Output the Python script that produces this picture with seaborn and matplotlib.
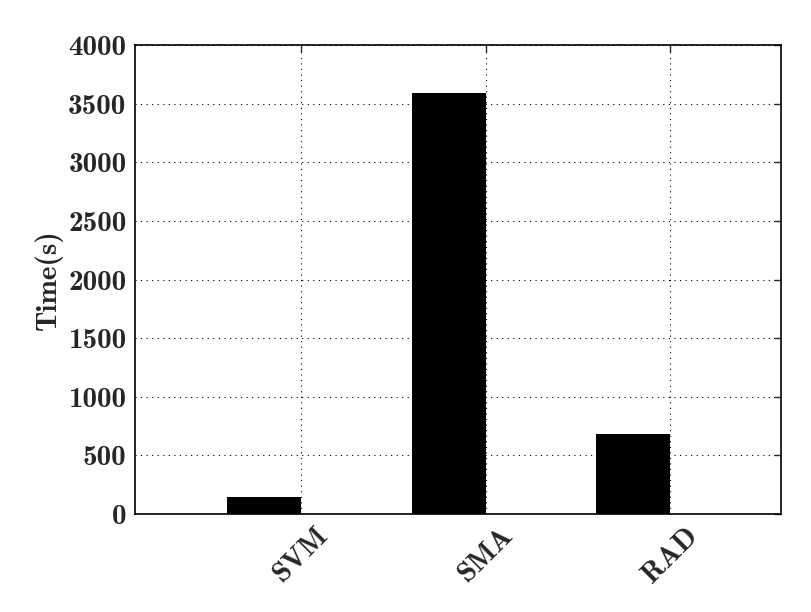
import numpy as np
import pandas as pd
import matplotlib
matplotlib.use('Agg')
import matplotlib.pyplot as plt
import seaborn as sns

methods = ['SVM', 'SMA', 'RAD']
times = [145, 3590, 682]

df = pd.DataFrame({'Method': methods, 'Time': times})

font = 21
sns.set_style('white')
plt.rcParams.update({'font.size': font, 'font.family': ['cmb10', 'DejaVu Serif'],
                     'axes.unicode_minus': False, 'mathtext.fontset': 'cm'})

fig = plt.figure(figsize=(8.12, 6.12), dpi=100)
ax = fig.add_axes([0.166, 0.160, 0.796, 0.766])
width = 0.4
sns.barplot(data=df, x='Method', y='Time', color='black', width=width,
            edgecolor='black', linewidth=0, saturation=1, errorbar=None, ax=ax)

ax.set_xlim(-0.7, 2.8)
ax.set_ylim(0, 4000)
ax.set_xticks(np.arange(len(methods)) + width / 2)
ax.set_xticklabels(methods, rotation=45)
ax.set_yticks(np.arange(0, 4001, 500))
ax.set_xlabel('')
ax.set_ylabel('Time(s)', fontsize=font)
ax.grid(True, ls=(0, (1, 4)), color='black', lw=0.8)
ax.set_axisbelow(True)
plt.setp(ax.spines.values(), linewidth=1.2, color='black')
ax.tick_params(direction='in', length=5, width=1, right=True, top=True,
               labelsize=font, pad=6)

fig.savefig('out.png', dpi=100)
